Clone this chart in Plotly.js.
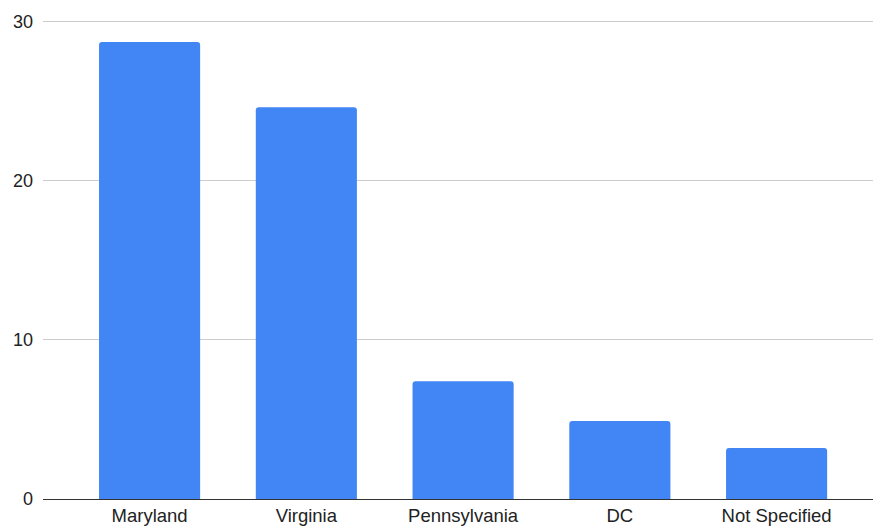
<!DOCTYPE html>
<html>
<head>
<meta charset="utf-8">
<script src="https://cdn.plot.ly/plotly-3.0.1.min.js"></script>
<style>html,body{margin:0;padding:0;background:#fff;}#chart{width:873px;height:529px;}</style>
</head>
<body>
<div id="chart"></div>
<script>
const categories = ["Maryland", "Virginia", "Pennsylvania", "DC", "Not Specified"];
const values = [28.7, 24.6, 7.4, 4.9, 3.2];
const yTicks = [0, 10, 20, 30];

Plotly.newPlot("chart", [{
  type: "bar",
  x: [0, 1, 2, 3, 4],
  y: values,
  width: 0.645,
  marker: { color: "#4285f4", cornerradius: 3 },
  hoverinfo: "skip"
}], {
  width: 873, height: 529,
  margin: { l: 43, r: 0, t: 19, b: 30 },
  paper_bgcolor: "#fff", plot_bgcolor: "#fff",
  showlegend: false,
  font: { family: "Liberation Sans, Arial, sans-serif", size: 18, color: "#222" },
  xaxis: {
    range: [-0.68, 4.615],
    tickmode: "array", tickvals: [0, 1, 2, 3, 4], ticktext: categories,
    showgrid: false, zeroline: false,
    showline: true, linecolor: "#333", linewidth: 1,
    ticks: "", ticklen: 0, ticklabelstandoff: 0,
    tickfont: { size: 18.5, color: "#222" }
  },
  yaxis: {
    range: [0, 30.15],
    tickmode: "array", tickvals: yTicks, ticktext: yTicks.map(String),
    showgrid: true, gridcolor: "#cccccc", gridwidth: 1,
    zeroline: false, showline: false,
    ticks: "", ticklabelstandoff: 9,
    tickfont: { size: 18, color: "#222" }
  }
}, { displayModeBar: false, staticPlot: true });
</script>
</body>
</html>
